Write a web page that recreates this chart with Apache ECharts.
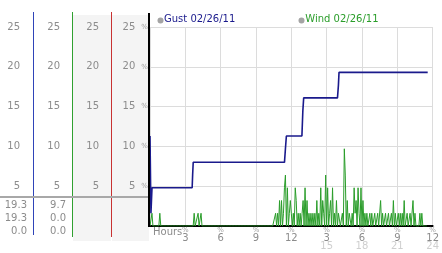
<!DOCTYPE html>
<html>
<head>
<meta charset="utf-8">
<script src="https://cdn.jsdelivr.net/npm/echarts@6/dist/echarts.min.js"></script>
<style>
html,body{margin:0;padding:0;background:#fff;}
#chart{width:442px;height:253px;}
</style>
</head>
<body>
<div id="chart"></div>
<script>
// ---- data ----
var gustName = 'Gust 02/26/11';
var windName = 'Wind 02/26/11';
// gust: [hour, value]
var gust = [
  [0.00, 11.3], [0.08, 1.6], [0.17, 4.8],
  [3.58, 4.8], [3.62, 6.4], [3.67, 8.0],
  [11.42, 8.0], [11.50, 9.7], [11.58, 11.3],
  [12.90, 11.3], [12.98, 14.5], [13.05, 16.1],
  [15.92, 16.1], [16.00, 17.7], [16.05, 19.3],
  [23.58, 19.3]
];
// wind: 5-minute readings, one row per hour starting at 00:00
var windStepHours = 5 / 60;
var windRows = [
  [0,0,1.6,0,0,0,0,0,0,0,1.6,0],
  [0,0,0,0,0,0,0,0,0,0,0,0],
  [0,0,0,0,0,0,0,0,0,0,0,0],
  [0,0,0,0,0,0,0,0,0,1.6,0,0],
  [0,1.6,0,0,1.6,0,0,0,0,0,0,0],
  [0,0,0,0,0,0,0,0,0,0,0,0],
  [0,0,0,0,0,0,0,0,0,0,0,0],
  [0,0,0,0,0,0,0,0,0,0,0,0],
  [0,0,0,0,0,0,0,0,0,0,0,0],
  [0,0,0,0,0,0,0,0,0,0,0,0],
  [0,0,0,0,0,0,0,0,1.6,0,1.6,0],
  [3.2,0,3.2,0,1.6,4.8,6.4,0,4.8,0,1.6,3.2],
  [1.6,0,1.6,0,4.8,3.2,0,1.6,0,1.6,0,1.6],
  [3.2,0,4.8,0,3.2,0,1.6,0,1.6,0,1.6,0],
  [1.6,0,3.2,0,1.6,0,4.8,0,3.2,1.6,0,6.4],
  [0,4.8,0,1.6,3.2,0,4.8,0,1.6,0,3.2,0],
  [1.6,1.6,0,0,1.6,0,9.7,6.4,0,3.2,0,1.6],
  [1.6,0,1.6,0,4.8,1.6,3.2,0,4.8,1.6,0,4.8],
  [0,3.2,0,1.6,0,1.6,0,0,1.6,0,1.6,0],
  [0,1.6,0,0,1.6,0,0,3.2,0,1.6,0,0],
  [1.6,0,0,1.6,0,0,1.6,0,3.2,0,1.6,0],
  [0,1.6,0,1.6,0,1.6,0,3.2,0,0,1.6,0],
  [0,1.6,0,0,3.2,0,1.6,0,0,0,0,1.6],
  [0,1.6,0,0,0,0,0]
];
var yTicks = [0, 5, 10, 15, 20, 25];
var xTicks = [0, 3, 6, 9, 12, 15, 18, 21, 24];
var gustStats = [19.3, 19.3, 0.0];
var windStats = [9.7, 0.0, 0.0];

// ---- build ----
var windData = [];
windRows.forEach(function (row) { row.forEach(function (v) { windData.push([windData.length * windStepHours, v]); }); });

var FONT = 'DejaVu Sans';
var LBL = '#8c8c8c';
var NAVY = '#1a1a8c';
var GREEN = '#2a9d2a';

function yLab(v) { return v === 0 ? '' : String(v); }
function sideAxis(offset, margin) {
  return {
    type: 'value', min: 0, max: 25, interval: 5, position: 'left', offset: offset,
    axisLine: { show: false }, axisTick: { show: false }, splitLine: { show: false },
    axisLabel: { margin: margin, color: LBL, fontFamily: FONT, fontSize: 10, formatter: yLab }
  };
}

var chart = echarts.init(document.getElementById('chart'), null, { renderer: 'canvas' });
var graphics = [
  { type: 'rect', shape: { x: 73, y: 15, width: 38, height: 226 }, style: { fill: '#f4f4f4' }, z: -1 },
  { type: 'rect', shape: { x: 112, y: 15, width: 37, height: 226 }, style: { fill: '#f4f4f4' }, z: -1 },
  { type: 'rect', shape: { x: 33, y: 12, width: 1, height: 223 }, style: { fill: '#2f44b8' }, z: 50 },
  { type: 'rect', shape: { x: 72, y: 12, width: 1, height: 225 }, style: { fill: '#30a030' }, z: 50 },
  { type: 'rect', shape: { x: 111, y: 12, width: 1, height: 225 }, style: { fill: '#c83232' }, z: 50 },
  { type: 'rect', shape: { x: 0, y: 196, width: 149, height: 2 }, style: { fill: '#a8a8a8' }, z: 51 },
  { type: 'rect', shape: { x: 148, y: 13, width: 2, height: 214 }, style: { fill: '#000' }, z: 52 },
  { type: 'circle', shape: { cx: 160.5, cy: 20.5, r: 3 }, style: { fill: '#a4a4a4' }, z: 20 },
  { type: 'circle', shape: { cx: 301.5, cy: 20.5, r: 3 }, style: { fill: '#a4a4a4' }, z: 20 },
  { type: 'text', x: 153, y: 232, style: { text: 'Hours', fill: LBL, font: '10px "' + FONT + '"', verticalAlign: 'middle' }, z: 20 }
];
var rowsY = [205, 218, 231];
gustStats.forEach(function (v, i) {
  graphics.push({ type: 'text', x: 27, y: rowsY[i], style: { text: v.toFixed(1), fill: LBL, font: '10px "' + FONT + '"', align: 'right', verticalAlign: 'middle' }, z: 20 });
});
windStats.forEach(function (v, i) {
  graphics.push({ type: 'text', x: 66, y: rowsY[i], style: { text: v.toFixed(1), fill: LBL, font: '10px "' + FONT + '"', align: 'right', verticalAlign: 'middle' }, z: 20 });
});

chart.setOption({
  animation: false,
  backgroundColor: '#fff',
  grid: { left: 150, right: 3, top: 27, bottom: 27 },
  legend: {
    left: 158, top: 14, padding: 0, icon: 'circle', itemWidth: 1, itemHeight: 7, itemGap: 64,
    textStyle: { fontFamily: FONT, fontSize: 10 },
    data: [
      { name: gustName, itemStyle: { color: 'rgba(0,0,0,0)' }, textStyle: { color: NAVY } },
      { name: windName, itemStyle: { color: 'rgba(0,0,0,0)' }, textStyle: { color: GREEN } }
    ]
  },
  xAxis: {
    type: 'value', min: xTicks[0], max: xTicks[xTicks.length - 1], interval: 3,
    axisLine: { show: true, lineStyle: { color: '#000', width: 2 } },
    axisTick: { show: false },
    splitLine: { show: true, lineStyle: { color: '#dcdcdc', width: 1 } },
    axisLabel: {
      margin: 1, showMinLabel: false,
      formatter: function (v) {
        if (v === 0) return '';
        if (v <= 12) return '{m|%}\n{a|' + v + '}';
        return '{m|%}\n{a|' + (v - 12) + '}\n{b|' + v + '}';
      },
      rich: {
        m: { fontFamily: FONT, fontSize: 7, color: '#a0a0a0', lineHeight: 7 },
        a: { fontFamily: FONT, fontSize: 10, color: LBL, lineHeight: 8 },
        b: { fontFamily: FONT, fontSize: 10, color: '#cfcfcf', lineHeight: 8 }
      }
    }
  },
  yAxis: [
    {
      type: 'value', min: yTicks[0], max: yTicks[yTicks.length - 1], interval: 5, position: 'left',
      axisLine: { show: false }, axisTick: { show: false },
      splitLine: { show: true, lineStyle: { color: '#dcdcdc', width: 1 } },
      axisLabel: {
        margin: 2,
        formatter: function (v) { return v === 0 ? '' : '{n|' + v + '}{m|%}'; },
        rich: {
          n: { fontFamily: FONT, fontSize: 10, color: LBL },
          m: { fontFamily: FONT, fontSize: 7, color: '#a0a0a0', padding: [0, 0, 0, 6] }
        }
      }
    },
    sideAxis(117, 13),
    sideAxis(78, 12),
    sideAxis(39, 12)
  ],
  graphic: graphics,
  series: [
    { name: windName, type: 'line', data: windData, symbol: 'none', lineStyle: { color: GREEN, width: 1 }, itemStyle: { color: GREEN }, z: 3 },
    { name: gustName, type: 'line', data: gust, symbol: 'none', lineStyle: { color: NAVY, width: 1.6 }, itemStyle: { color: NAVY }, z: 4 }
  ]
});
</script>
</body>
</html>
